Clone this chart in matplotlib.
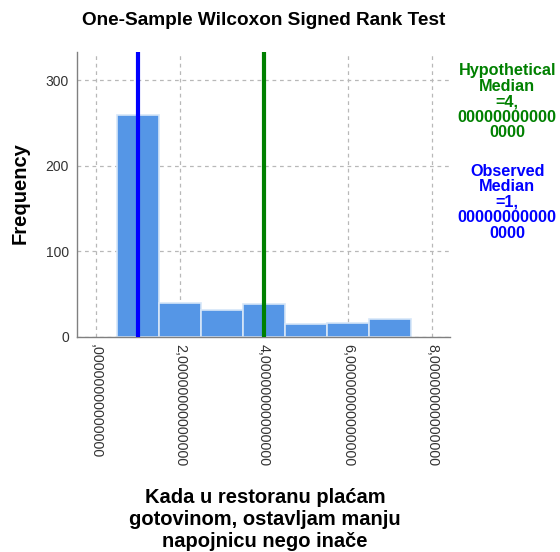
import matplotlib
matplotlib.use("Agg")
import matplotlib.pyplot as plt

# Data
bin_centers = [1, 2, 3, 4, 5, 6, 7]
frequencies = [259, 40, 31, 38, 15, 16, 21]
hyp_median = 4
obs_median = 1
x_ticks = [0, 2, 4, 6, 8]
x_tick_labels = [",00000000000000", "2,00000000000000", "4,00000000000000",
                 "6,00000000000000", "8,00000000000000"]
y_ticks = [0, 100, 200, 300]
title = "One-Sample Wilcoxon Signed Rank Test"
xlabel = "Kada u restoranu plaćam\ngotovinom, ostavljam manju\nnapojnicu nego inače"
ylabel = "Frequency"
hyp_text = "Hypothetical\nMedian\n=4,\n00000000000\n0000"
obs_text = "Observed\nMedian\n=1,\n00000000000\n0000"

plt.rcParams['font.family'] = ['Liberation Sans', 'DejaVu Sans']

fig = plt.figure(figsize=(5.6, 5.52), dpi=100)
ax = fig.add_axes([0.138, 0.390, 0.666, 0.516])

ax.bar(bin_centers, frequencies, width=1.0, color='#5596e6',
       edgecolor='#d6e6f8', linewidth=1.2, zorder=2)
ax.axvline(obs_median, color='#0000ff', linewidth=3, zorder=3)
ax.axvline(hyp_median, color='#008000', linewidth=3, zorder=3)

ax.set_xlim(-0.445, 8.43)
ax.set_ylim(0, 333)
ax.set_xticks(x_ticks)
ax.set_xticklabels(x_tick_labels, rotation=270, fontsize=10.3, color='#333333',
                   va='top', ha='center')
ax.set_yticks(y_ticks)
ax.set_yticklabels([str(v) for v in y_ticks], fontsize=10, color='#333333')
ax.tick_params(axis='x', length=0, pad=5)
ax.tick_params(axis='y', length=0, pad=6)

ax.grid(True, linestyle=(0, (3, 3)), color='#b8b8b8', linewidth=0.9, zorder=0)
ax.set_axisbelow(True)

for s in ['top', 'right']:
    ax.spines[s].set_visible(False)
for s in ['left', 'bottom']:
    ax.spines[s].set_color('#808080')
    ax.spines[s].set_linewidth(1.0)

fig.text(0.47, 0.963, title, ha='center', va='center', fontsize=13.7, fontweight='bold')
fig.text(0.036, 0.650, ylabel, ha='center', va='center', rotation=90,
         fontsize=14.5, fontweight='bold')
fig.text(0.473, 0.058, xlabel, ha='center', va='center', fontsize=14.5,
         fontweight='bold', linespacing=1.2)

fig.text(0.906, 0.885, hyp_text, ha='center', va='top', fontsize=11.7,
         fontweight='bold', color='#008000', linespacing=1.04)
fig.text(0.906, 0.703, obs_text, ha='center', va='top', fontsize=11.7,
         fontweight='bold', color='#0000ff', linespacing=1.04)

fig.savefig("out.png", dpi=100)
